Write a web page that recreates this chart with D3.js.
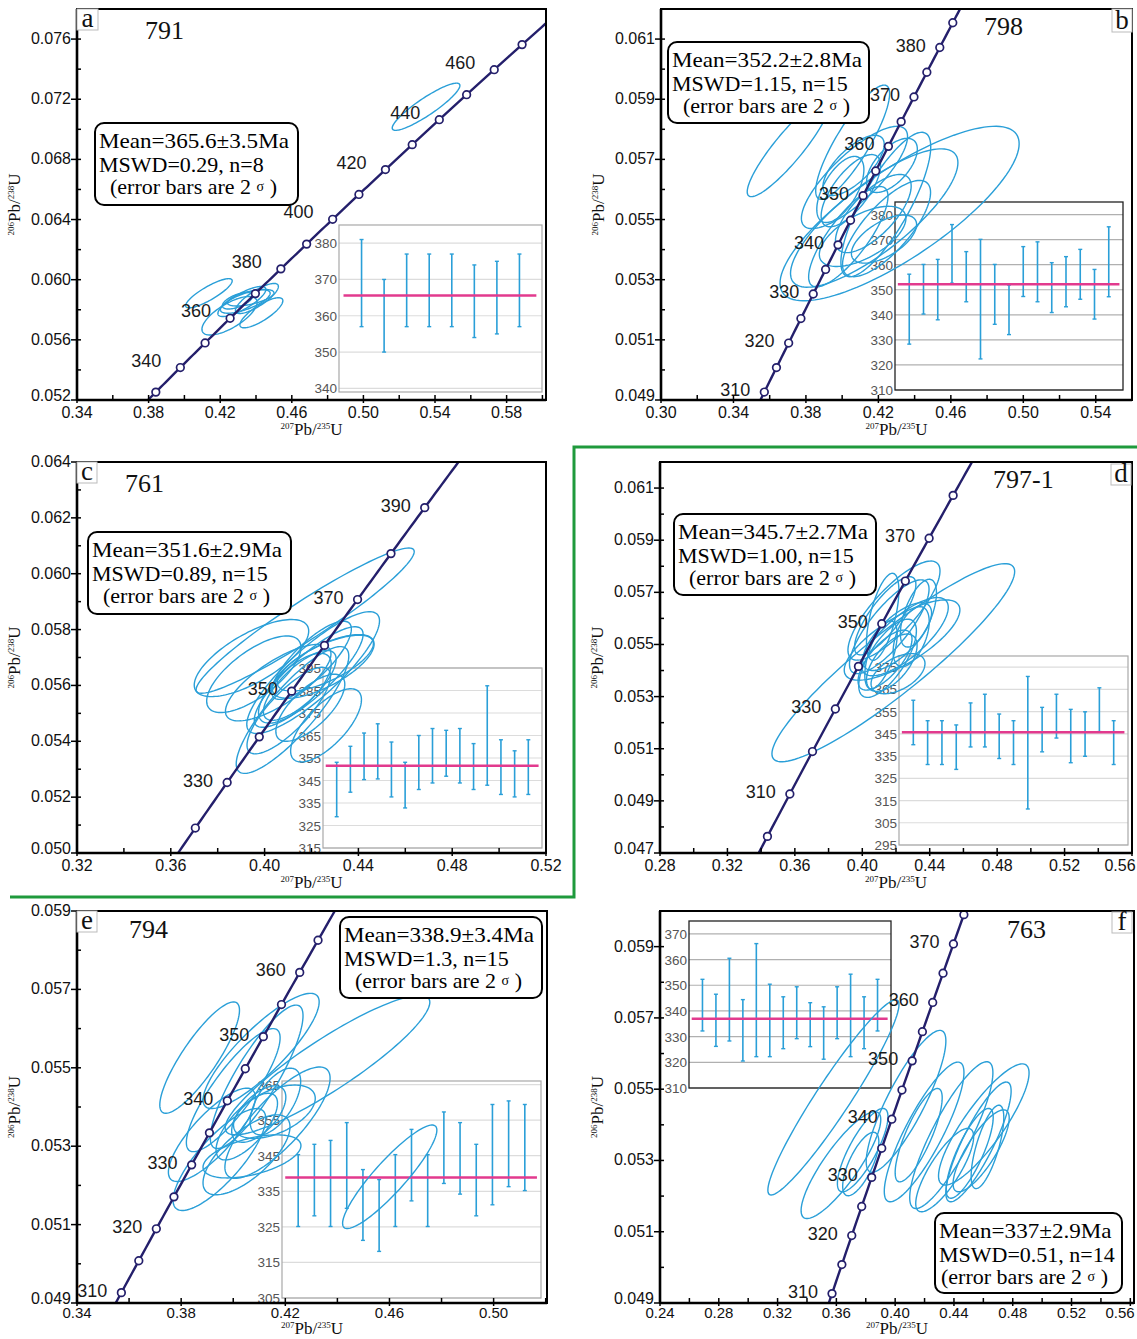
<!DOCTYPE html>
<html>
<head>
<meta charset="utf-8">
<script src="https://cdn.jsdelivr.net/npm/d3@7"></script>
<style>
body { margin: 0; background: #fff; }
svg { display: block; }
</style>
</head>
<body>
<script>
// ---- data ----
const panelLetters = ["a", "b", "c", "d", "e", "f"];
const sampleNames = ["791", "798", "761", "797-1", "794", "763"];
const meanLines = ["Mean=365.6\u00b13.5Ma", "Mean=352.2\u00b12.8Ma", "Mean=351.6\u00b12.9Ma",
                   "Mean=345.7\u00b12.7Ma", "Mean=338.9\u00b13.4Ma", "Mean=337\u00b12.9Ma"];
const mswdLines = ["MSWD=0.29, n=8", "MSWD=1.15, n=15", "MSWD=0.89, n=15",
                   "MSWD=1.00, n=15", "MSWD=1.3, n=15", "MSWD=0.51, n=14"];
const meanAges = [365.6, 352.2, 351.6, 345.7, 338.9, 337];

const xDomains = [[0.34, 0.602], [0.30, 0.56], [0.32, 0.52], [0.28, 0.56], [0.34, 0.5205], [0.24, 0.5625]];
const yDomains = [[0.052, 0.078], [0.049, 0.062], [0.050, 0.064], [0.047, 0.062], [0.049, 0.059], [0.049, 0.060]];
const xTicks = [
  [0.34, 0.38, 0.42, 0.46, 0.50, 0.54, 0.58],
  [0.30, 0.34, 0.38, 0.42, 0.46, 0.50, 0.54],
  [0.32, 0.36, 0.40, 0.44, 0.48, 0.52],
  [0.28, 0.32, 0.36, 0.40, 0.44, 0.48, 0.52, 0.56],
  [0.34, 0.38, 0.42, 0.46, 0.50],
  [0.24, 0.28, 0.32, 0.36, 0.40, 0.44, 0.48, 0.52, 0.56]
];
const yTicks = [
  [0.052, 0.056, 0.060, 0.064, 0.068, 0.072, 0.076],
  [0.049, 0.051, 0.053, 0.055, 0.057, 0.059, 0.061],
  [0.050, 0.052, 0.054, 0.056, 0.058, 0.060, 0.062, 0.064],
  [0.047, 0.049, 0.051, 0.053, 0.055, 0.057, 0.059, 0.061],
  [0.049, 0.051, 0.053, 0.055, 0.057, 0.059],
  [0.049, 0.051, 0.053, 0.055, 0.057, 0.059]
];

// concordia age marks (Ma)
const markerAges = [
  [330, 340, 350, 360, 370, 380, 390, 400, 410, 420, 430, 440, 450, 460, 470],
  [310, 315, 320, 325, 330, 335, 340, 345, 350, 355, 360, 365, 370, 375, 380, 385],
  [320, 330, 340, 350, 360, 370, 380, 390],
  [300, 310, 320, 330, 340, 350, 360, 370, 380],
  [310, 315, 320, 325, 330, 335, 340, 345, 350, 355, 360, 365],
  [310, 315, 320, 325, 330, 335, 340, 345, 350, 355, 360, 365, 370, 375]
];
const labelAges = [
  [340, 360, 380, 400, 420, 440, 460],
  [310, 320, 330, 340, 350, 360, 370, 380],
  [330, 350, 370, 390],
  [310, 330, 350, 370],
  [310, 320, 330, 340, 350, 360],
  [310, 320, 330, 340, 350, 360, 370]
];

// error ellipses: [207Pb/235U, 206Pb/238U, 2s x, 2s y, rho]
const ellipsesA = [
  [0.535, 0.0715, 0.0189, 0.00157, 0.9],
  [0.4137, 0.0591, 0.0130, 0.00097, 0.85],
  [0.4252, 0.0576, 0.0154, 0.00128, 0.7],
  [0.4321, 0.05855, 0.0134, 0.0010, 0.8],
  [0.4340, 0.05855, 0.0139, 0.00078, 0.7],
  [0.4297, 0.0586, 0.0085, 0.00055, 0.6],
  [0.4405, 0.05875, 0.0120, 0.0010, 0.8],
  [0.4430, 0.0578, 0.0120, 0.0010, 0.8],
  [0.4370, 0.0588, 0.0130, 0.00055, 0.6]
];
const ellipsesB = [
  [0.3705, 0.0574, 0.0229, 0.00164, 0.9],
  [0.4058, 0.05757, 0.0204, 0.0019, 0.85],
  [0.4317, 0.0552, 0.066, 0.0029, 0.8],
  [0.4177, 0.05505, 0.0462, 0.0023, 0.8],
  [0.4241, 0.0555, 0.0248, 0.0024, 0.8],
  [0.4068, 0.0564, 0.0293, 0.0017, 0.8],
  [0.4048, 0.05596, 0.0164, 0.0012, 0.7],
  [0.4172, 0.0552, 0.0209, 0.0013, 0.7],
  [0.4034, 0.05443, 0.0219, 0.00167, 0.8],
  [0.4113, 0.05444, 0.0239, 0.0010, 0.6],
  [0.4245, 0.0547, 0.0243, 0.0016, 0.75],
  [0.4231, 0.05435, 0.018, 0.0008, 0.6],
  [0.4063, 0.0568, 0.0169, 0.0010, 0.7],
  [0.4275, 0.0568, 0.014, 0.0009, 0.6],
  [0.3990, 0.0560, 0.0130, 0.0011, 0.6]
];
const ellipsesC = [
  [0.4173, 0.05832, 0.0465, 0.0026, 0.95],
  [0.3944, 0.05698, 0.0244, 0.00138, 0.7],
  [0.3954, 0.0564, 0.0201, 0.00137, 0.7],
  [0.4058, 0.0561, 0.0225, 0.00137, 0.75],
  [0.4207, 0.05646, 0.0283, 0.00218, 0.85],
  [0.4188, 0.0563, 0.0232, 0.0018, 0.85],
  [0.4119, 0.05512, 0.0240, 0.00227, 0.85],
  [0.4262, 0.05457, 0.0151, 0.00131, 0.7],
  [0.4250, 0.05668, 0.0217, 0.00114, 0.7],
  [0.4259, 0.0568, 0.0205, 0.0010, 0.7],
  [0.4129, 0.0559, 0.0155, 0.00125, 0.7],
  [0.4103, 0.0551, 0.0178, 0.00155, 0.8],
  [0.4195, 0.0552, 0.0147, 0.0012, 0.7],
  [0.4150, 0.0560, 0.0155, 0.00125, 0.75],
  [0.4200, 0.0569, 0.0170, 0.0014, 0.8]
];
const ellipsesD = [
  [0.4184, 0.0543, 0.072, 0.0038, 0.92],
  [0.4236, 0.05517, 0.0343, 0.00154, 0.75],
  [0.4188, 0.0563, 0.0273, 0.0019, 0.8],
  [0.4160, 0.05568, 0.0236, 0.0018, 0.8],
  [0.4150, 0.05447, 0.0171, 0.0015, 0.7],
  [0.4135, 0.0544, 0.0160, 0.00115, 0.7],
  [0.4207, 0.0553, 0.0204, 0.0013, 0.7],
  [0.4175, 0.0543, 0.0150, 0.0011, 0.6],
  [0.4253, 0.0553, 0.0257, 0.0015, 0.75],
  [0.4212, 0.05388, 0.0160, 0.00077, 0.5],
  [0.4290, 0.0553, 0.0107, 0.00115, 0.5],
  [0.4136, 0.0561, 0.0182, 0.0015, 0.8],
  [0.4121, 0.05606, 0.0096, 0.00167, 0.6],
  [0.4333, 0.0562, 0.0107, 0.0013, 0.6],
  [0.4111, 0.0546, 0.0096, 0.0013, 0.6]
];
const ellipsesE = [
  [0.3871, 0.05526, 0.0153, 0.00142, 0.85],
  [0.4362, 0.05507, 0.0393, 0.00178, 0.9],
  [0.4107, 0.05543, 0.0223, 0.00147, 0.85],
  [0.4090, 0.05477, 0.0178, 0.00183, 0.85],
  [0.4000, 0.05443, 0.0180, 0.00157, 0.85],
  [0.3918, 0.05329, 0.0167, 0.00119, 0.8],
  [0.3947, 0.05266, 0.0178, 0.0013, 0.8],
  [0.4072, 0.05274, 0.0188, 0.00055, 0.5],
  [0.4170, 0.0536, 0.0202, 0.00142, 0.8],
  [0.4158, 0.05388, 0.0157, 0.00068, 0.5],
  [0.4098, 0.05382, 0.0104, 0.00072, 0.6],
  [0.4601, 0.05222, 0.0181, 0.00132, 0.9],
  [0.4052, 0.0535, 0.0118, 0.00085, 0.7],
  [0.4051, 0.05278, 0.0167, 0.00102, 0.7],
  [0.4162, 0.05414, 0.0097, 0.00085, 0.6]
];
const ellipsesF = [
  [0.3580, 0.05477, 0.0446, 0.00274, 0.95],
  [0.3631, 0.05287, 0.0271, 0.0015, 0.85],
  [0.3779, 0.05329, 0.0172, 0.00117, 0.8],
  [0.3766, 0.0529, 0.0123, 0.00089, 0.7],
  [0.4074, 0.05466, 0.0271, 0.00199, 0.85],
  [0.4197, 0.0538, 0.0271, 0.00196, 0.85],
  [0.4382, 0.05371, 0.0283, 0.00206, 0.85],
  [0.4603, 0.05401, 0.0308, 0.0017, 0.85],
  [0.4567, 0.05352, 0.0222, 0.00168, 0.85],
  [0.4507, 0.0532, 0.0160, 0.00126, 0.8],
  [0.4585, 0.05327, 0.0191, 0.00115, 0.8],
  [0.4160, 0.05371, 0.0160, 0.00131, 0.8],
  [0.4337, 0.05273, 0.0197, 0.00117, 0.8],
  [0.4628, 0.05338, 0.0111, 0.00117, 0.7]
];

// weighted-mean insets: age error bars [low, high] (Ma)
const barsA = [[357, 381], [350, 370], [357, 377], [357, 377], [357, 377], [354, 374], [355, 375], [357, 377]];
const barsB = [[328.3, 356.2], [340.3, 360.1], [338.0, 362.1], [352.6, 376.0], [345.2, 365.2], [322.4, 370.1],
  [336.2, 360.1], [332.1, 351.9], [347.3, 367.2], [345.2, 369.1], [340.9, 360.8], [343.2, 363.2],
  [346.2, 366.1], [338.3, 358.1], [347.2, 375.1]];
const barsC = [[328.9, 353.1], [339.8, 360.2], [345.4, 366.1], [345.7, 370.2], [337.7, 362.1], [332.8, 353.1],
  [341.0, 365.0], [343.9, 368.1], [346.9, 367.3], [343.9, 368.1], [341.0, 361.4], [342.9, 387.1],
  [338.8, 363.1], [337.7, 358.2], [338.8, 363.1]];
const barsD = [[340.1, 360.1], [331.2, 350.9], [331.2, 350.9], [329.0, 349.0], [339.1, 358.9], [339.1, 362.8],
  [333.9, 353.9], [331.2, 350.9], [311.2, 370.8], [336.9, 356.9], [343.1, 362.8], [332.0, 356.0],
  [334.9, 354.9], [346.0, 365.7], [331.2, 350.9]];
const barsE = [[325.1, 345.3], [328.1, 348.2], [325.1, 349.3], [330.2, 354.3], [321.2, 341.1], [318.1, 338.3],
  [325.1, 345.3], [332.3, 352.4], [325.1, 345.3], [337.2, 357.3], [334.2, 354.3], [328.1, 348.2],
  [331.2, 359.4], [336.3, 360.4], [335.2, 359.4]];
const barsF = [[332.2, 352.3], [326.2, 346.5], [328.3, 360.5], [320.5, 344.4], [322.2, 366.2], [322.2, 350.4],
  [325.3, 345.5], [329.2, 349.4], [326.1, 343.2], [321.2, 341.6], [329.2, 349.4], [322.2, 354.3],
  [325.3, 345.5], [332.2, 352.3]];

const insetDomains = [[339, 385], [310, 385], [315, 395], [295, 380], [305, 366], [310, 375]];
const insetTicks = [
  [340, 350, 360, 370, 380],
  [310, 320, 330, 340, 350, 360, 370, 380],
  [315, 325, 335, 345, 355, 365, 375, 385, 395],
  [295, 305, 315, 325, 335, 345, 355, 365, 375],
  [305, 315, 325, 335, 345, 355, 365],
  [310, 320, 330, 340, 350, 360, 370]
];

const allEllipses = [ellipsesA, ellipsesB, ellipsesC, ellipsesD, ellipsesE, ellipsesF];
const allBars = [barsA, barsB, barsC, barsD, barsE, barsF];

// ---- layout (pixels) ----
const layout = [
  { frame: [77, 9, 546, 400], inset: [339, 225, 542, 392], stat: [95, 123, 298, 205], name: [145, 39],
    letter: [77, 9, 98, 30], dark: false, lab: [-19, -7], indent: 15 },
  { frame: [661, 9, 1132, 400], inset: [895, 202, 1123, 390], stat: [668, 42, 869, 123], name: [984, 35],
    letter: [1112, 9, 1132, 32], dark: true, lab: [-14, -2], indent: 15 },
  { frame: [77, 462, 546, 853], inset: [323, 668, 542, 848], stat: [88, 532, 291, 614], name: [125, 492],
    letter: [77, 462, 97, 483], dark: false, lab: [-14, -2], indent: 15 },
  { frame: [660, 462, 1132, 853], inset: [899, 656, 1128, 845], stat: [674, 514, 876, 595], name: [993, 488],
    letter: [1111, 464, 1131, 485], dark: false, lab: [-14, -2], indent: 15 },
  { frame: [77, 911, 547, 1303], inset: [282, 1081, 541, 1298], stat: [340, 917, 542, 998], name: [129, 938],
    letter: [77, 911, 97, 932], dark: false, lab: [-14, -2], indent: 15 },
  { frame: [660, 911, 1134, 1303], inset: [689, 921, 891, 1088], stat: [935, 1213, 1122, 1293], name: [1007, 938],
    letter: [1112, 912, 1132, 933], dark: true, lab: [-14, -2], indent: 6 }
];

const SANS = "'Liberation Sans', Arial, sans-serif";
const SERIF = "'Liberation Serif', 'Times New Roman', serif";
const NAVY = "#241f6b";
const BLUE = "#2a9fd8";
const PINK = "#e23a8e";
const W = 1137, H = 1339;

// U decay constants (per Ma)
const L238 = 1.55125e-4, L235 = 9.8485e-4;
const conc = t => [Math.exp(L235 * t) - 1, Math.exp(L238 * t) - 1];

const svg = d3.select("body").append("svg")
  .attr("width", W).attr("height", H);

// green separator
svg.append("path")
  .attr("d", d3.line()([[10, 897], [574, 897], [574, 447], [W, 447]]))
  .attr("fill", "none").attr("stroke", "#1f9a3c").attr("stroke-width", 3);

// stretch a text a little wider than the font draws it
function widen(sel, k) {
  const len = sel.node().getComputedTextLength();
  sel.attr("textLength", len * k).attr("lengthAdjust", "spacingAndGlyphs");
}

function drawPanel(i) {
  const L = layout[i];
  const [l, t, r, b] = L.frame;
  const g = svg.append("g");
  const x = d3.scaleLinear().domain(xDomains[i]).range([l, r]);
  const y = d3.scaleLinear().domain(yDomains[i]).range([b, t]);
  const low = b > 1200;   // bottom row sits close to the page edge

  const clipId = "clip" + i;
  svg.append("clipPath").attr("id", clipId)
    .append("rect").attr("x", l).attr("y", t).attr("width", r - l).attr("height", b - t);

  // inset weighted mean plot (behind the ellipses)
  const [il, it, ir, ib] = L.inset;
  const bars = allBars[i];
  const iy = d3.scaleLinear().domain(insetDomains[i]).range([ib, it]);
  const ix = d3.scaleLinear().domain([0, bars.length + 1]).range([il, ir]);
  const ins = g.append("g");
  ins.selectAll("line.grid").data(insetTicks[i]).enter().append("line")
    .attr("x1", il).attr("x2", ir)
    .attr("y1", d => iy(d)).attr("y2", d => iy(d))
    .attr("stroke", L.dark ? "#b0b0b0" : "#dcdcdc").attr("stroke-width", 1.2);
  ins.append("rect").attr("x", il).attr("y", it).attr("width", ir - il).attr("height", ib - it)
    .attr("fill", "none").attr("stroke", L.dark ? "#222" : "#a8a8a8").attr("stroke-width", L.dark ? 1.3 : 1.2);
  ins.selectAll("text").data(insetTicks[i]).enter().append("text")
    .attr("x", il - 2).attr("y", d => iy(d) + 5)
    .attr("text-anchor", "end").attr("font-family", SANS).attr("font-size", 13.5)
    .attr("fill", "#555").text(d => d);
  const bg = ins.selectAll("g.bar").data(bars).enter().append("g");
  bg.append("line")
    .attr("x1", (d, k) => ix(k + 1)).attr("x2", (d, k) => ix(k + 1))
    .attr("y1", d => iy(d[0])).attr("y2", d => iy(d[1]))
    .attr("stroke", BLUE).attr("stroke-width", 1.6);
  [0, 1].forEach(j => {
    bg.append("line")
      .attr("x1", (d, k) => ix(k + 1) - 2).attr("x2", (d, k) => ix(k + 1) + 2)
      .attr("y1", d => iy(d[j])).attr("y2", d => iy(d[j]))
      .attr("stroke", BLUE).attr("stroke-width", 1.4);
  });
  ins.append("line")
    .attr("x1", ix(0.2)).attr("x2", ix(bars.length + 0.75))
    .attr("y1", iy(meanAges[i])).attr("y2", iy(meanAges[i]))
    .attr("stroke", PINK).attr("stroke-width", 2.5);

  // error ellipses
  const thetas = d3.range(0, 2 * Math.PI, Math.PI / 60);
  const ellLine = d3.line().curve(d3.curveLinearClosed);
  g.append("g").attr("clip-path", `url(#${clipId})`)
    .selectAll("path").data(allEllipses[i]).enter().append("path")
    .attr("d", e => {
      const [cx, cy, sx, sy, rho] = e;
      const q = Math.sqrt(1 - rho * rho);
      return ellLine(thetas.map(a => [x(cx + sx * Math.cos(a)), y(cy + sy * (rho * Math.cos(a) + q * Math.sin(a)))]));
    })
    .attr("fill", "none").attr("stroke", BLUE).attr("stroke-width", 1.4);

  // concordia
  const ages = d3.range(200, 560, 1);
  const cg = g.append("g").attr("clip-path", `url(#${clipId})`);
  cg.append("path")
    .attr("d", d3.line().x(a => x(conc(a)[0])).y(a => y(conc(a)[1]))(ages))
    .attr("fill", "none").attr("stroke", NAVY).attr("stroke-width", 2.4);
  cg.selectAll("circle").data(markerAges[i]).enter().append("circle")
    .attr("cx", a => x(conc(a)[0])).attr("cy", a => y(conc(a)[1])).attr("r", 3.8)
    .attr("fill", "#fff").attr("stroke", NAVY).attr("stroke-width", 1.7);
  g.selectAll("text.age").data(labelAges[i]).enter().append("text")
    .attr("x", a => x(conc(a)[0]) + L.lab[0]).attr("y", a => y(conc(a)[1]) + L.lab[1] + 6)
    .attr("text-anchor", "end").attr("font-family", SANS).attr("font-size", 18)
    .attr("fill", "#1a1a1a").text(a => a);

  // frame and axes
  g.append("rect").attr("x", l).attr("y", t).attr("width", r - l).attr("height", b - t)
    .attr("fill", "none").attr("stroke", "#000").attr("stroke-width", 2);
  g.append("line").attr("x1", l).attr("x2", r).attr("y1", b).attr("y2", b)
    .attr("stroke", "#000").attr("stroke-width", 2.6);
  g.append("line").attr("x1", l).attr("x2", l).attr("y1", t).attr("y2", b)
    .attr("stroke", "#000").attr("stroke-width", 2.6);

  const xt = xTicks[i], yt = yTicks[i];
  const xStep = xt[1] - xt[0], yStep = yt[1] - yt[0];
  const xMinor = xt.map(v => v + xStep / 2).filter(v => v < xDomains[i][1]);
  const yMinor = yt.map(v => v + yStep / 2).concat([yt[0] - yStep / 2])
    .filter(v => v > yDomains[i][0] && v < yDomains[i][1]);

  g.selectAll("line.xt").data(xt).enter().append("line")
    .attr("x1", d => x(d)).attr("x2", d => x(d))
    .attr("y1", b + 3).attr("y2", b - 5)
    .attr("stroke", "#000").attr("stroke-width", 1.5);
  g.selectAll("line.xm").data(xMinor).enter().append("line")
    .attr("x1", d => x(d)).attr("x2", d => x(d))
    .attr("y1", b).attr("y2", b - 5)
    .attr("stroke", "#000").attr("stroke-width", 1.5);
  g.selectAll("text.xt").data(xt).enter().append("text")
    .attr("x", d => Math.min(x(d), W - 17)).attr("y", b + (low ? 15 : 18))
    .attr("text-anchor", "middle").attr("font-family", SANS).attr("font-size", low ? 15 : 16)
    .attr("fill", "#111").text(d => d3.format(".2f")(d));

  g.selectAll("line.yt").data(yt).enter().append("line")
    .attr("x1", l - 6).attr("x2", l + 4).attr("y1", d => y(d)).attr("y2", d => y(d))
    .attr("stroke", "#000").attr("stroke-width", 1.5);
  g.selectAll("line.ym").data(yMinor).enter().append("line")
    .attr("x1", l).attr("x2", l + 4).attr("y1", d => y(d)).attr("y2", d => y(d))
    .attr("stroke", "#000").attr("stroke-width", 1.5);
  g.selectAll("text.yt").data(yt).enter().append("text")
    .attr("x", l - 6).attr("y", d => y(d) + (b - y(d) < 3 ? 1 : 5))
    .attr("text-anchor", "end").attr("font-family", SANS).attr("font-size", 16)
    .attr("fill", "#111").text(d => d3.format(".3f")(d));

  // axis titles
  const xTitle = g.append("text").attr("x", (l + r) / 2).attr("y", low ? H - 5 : b + 35)
    .attr("text-anchor", "middle").attr("font-family", SERIF).attr("font-size", 17).attr("fill", "#111");
  xTitle.append("tspan").attr("font-size", 9).attr("dy", -6).text("207");
  xTitle.append("tspan").attr("dy", 6).text("Pb/");
  xTitle.append("tspan").attr("font-size", 9).attr("dy", -6).text("235");
  xTitle.append("tspan").attr("dy", 6).text("U");

  const yTitle = g.append("text")
    .attr("transform", `translate(${l - 57},${(t + b) / 2}) rotate(-90)`)
    .attr("text-anchor", "middle").attr("font-family", SERIF).attr("font-size", 17).attr("fill", "#111");
  yTitle.append("tspan").attr("font-size", 9).attr("dy", -6).text("206");
  yTitle.append("tspan").attr("dy", 6).text("Pb/");
  yTitle.append("tspan").attr("font-size", 9).attr("dy", -6).text("238");
  yTitle.append("tspan").attr("dy", 6).text("U");

  // statistics box
  const [sl, st, sr, sb] = L.stat;
  g.append("rect").attr("x", sl).attr("y", st).attr("width", sr - sl).attr("height", sb - st)
    .attr("rx", 9).attr("fill", "#fff").attr("stroke", "#000").attr("stroke-width", 2);
  const sTxt = g.append("g").attr("font-family", SERIF).attr("font-size", 22).attr("fill", "#000");
  const l1 = sTxt.append("text").attr("x", sl + 4).attr("y", st + 25).text(meanLines[i]);
  widen(l1, 1.05);
  sTxt.append("text").attr("x", sl + 4).attr("y", st + 49).text(mswdLines[i]);
  const l3 = sTxt.append("text").attr("x", sl + L.indent).attr("y", st + 71);
  l3.append("tspan").text("(error bars are 2 ");
  l3.append("tspan").attr("font-size", 14).attr("dy", -3).text("\u03c3");
  l3.append("tspan").attr("dy", 3).text(" )");

  // sample name
  g.append("text").attr("x", L.name[0]).attr("y", L.name[1])
    .attr("font-family", SERIF).attr("font-size", 26).attr("fill", "#111").text(sampleNames[i]);

  // panel letter
  const [ll, lt, lr, lb] = L.letter;
  g.append("rect").attr("x", ll).attr("y", lt).attr("width", lr - ll).attr("height", lb - lt)
    .attr("fill", "#fff").attr("stroke", "#bbb").attr("stroke-width", 1);
  g.append("text").attr("x", (ll + lr) / 2).attr("y", lb - 3)
    .attr("text-anchor", "middle").attr("font-family", SERIF).attr("font-size", 27)
    .attr("fill", "#111").text(panelLetters[i]);
}

d3.range(6).forEach(drawPanel);
</script>
</body>
</html>
